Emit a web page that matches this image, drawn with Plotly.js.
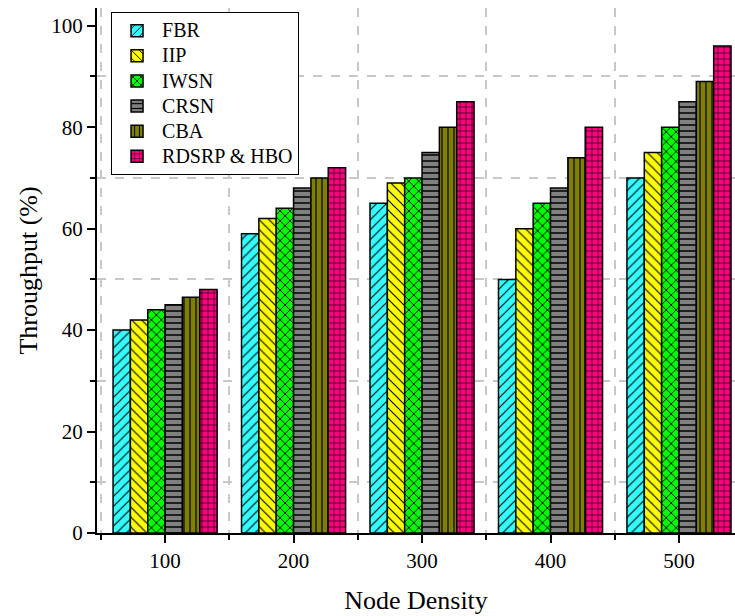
<!DOCTYPE html>
<html>
<head>
<meta charset="utf-8">
<script src="https://cdn.plot.ly/plotly-3.0.1.min.js"></script>
<style>html,body{margin:0;padding:0;background:#fff;}#chart{width:735px;height:616px;}</style>
</head>
<body>
<div id="chart"></div>
<script>
const nodeDensity = [100, 200, 300, 400, 500];
const seriesNames = ["FBR", "IIP", "IWSN", "CRSN", "CBA", "RDSRP & HBO"];
const fbr   = [40, 59, 65, 50, 70];
const iip   = [42, 62, 69, 60, 75];
const iwsn  = [44, 64, 70, 65, 80];
const crsn  = [45, 68, 75, 68, 85];
const cba   = [46.5, 70, 80, 74, 89];
const rdsrp = [48, 72, 85, 80, 96];
const seriesValues = [fbr, iip, iwsn, crsn, cba, rdsrp];

const colors = ["#33FFFF", "#FFFF00", "#00FF00", "#808080", "#808000", "#FF0080"];
const shapes = ["/", "\\", "x", "-", "|", "+"];
const sizes  = [7, 7, 7, 6, 6, 6];
const solid  = [0.17, 0.17, 0.25, 0.25, 0.2, 0.2];

const traces = seriesNames.map((name, i) => ({
  type: "bar",
  name: '<span style="font-size:20px">' + name.replace("&", "&amp;") + '</span>',
  x: nodeDensity,
  y: seriesValues[i],
  marker: {
    color: colors[i],
    line: {color: "#000", width: 1.5},
    pattern: {shape: shapes[i], fgcolor: "#000", bgcolor: colors[i], size: sizes[i], solidity: solid[i], fillmode: "replace"}
  }
}));

const font = "Liberation Serif, Times New Roman, serif";
const layout = {
  width: 735, height: 616,
  margin: {l: 97, r: 0, t: 8, b: 83},
  paper_bgcolor: "#fff", plot_bgcolor: "#fff",
  barmode: "group", bargap: 0.19, bargroupgap: 0,
  font: {family: font, color: "#000"},
  xaxis: {
    range: [47, 543.6], tick0: 0, dtick: 100,
    showgrid: false, zeroline: false,
    showline: true, linecolor: "#000", linewidth: 2,
    ticks: "outside", ticklen: 8, tickwidth: 2, tickcolor: "#000",
    tickfont: {size: 21, family: font},
    minor: {tick0: 0, dtick: 50, ticks: "outside", ticklen: 5, tickwidth: 2, tickcolor: "#000",
            showgrid: true, gridcolor: "#c8c8c8", gridwidth: 2, griddash: "dash"},
    title: {text: "Node Density", font: {size: 26, family: font}, standoff: 19}
  },
  yaxis: {
    range: [0, 103.5], tick0: 0, dtick: 20,
    showgrid: false, zeroline: false,
    showline: true, linecolor: "#000", linewidth: 2,
    ticks: "outside", ticklen: 8, tickwidth: 2, tickcolor: "#000",
    tickfont: {size: 21, family: font},
    minor: {tick0: 0, dtick: 10, ticks: "outside", ticklen: 5, tickwidth: 2, tickcolor: "#000",
            showgrid: true, gridcolor: "#c8c8c8", gridwidth: 2, griddash: "dash"},
    title: {text: "Throughput (%)", font: {size: 26, family: font}, standoff: 6}
  },
  legend: {
    x: 0.022, y: 0.992, xanchor: "left", yanchor: "top",
    bgcolor: "#fff", bordercolor: "#000", borderwidth: 1,
    font: {size: 17, family: font}, itemwidth: 40, tracegroupgap: 0
  },
  showlegend: true
};

Plotly.newPlot("chart", traces, layout, {displayModeBar: false, staticPlot: true});
</script>
</body>
</html>
